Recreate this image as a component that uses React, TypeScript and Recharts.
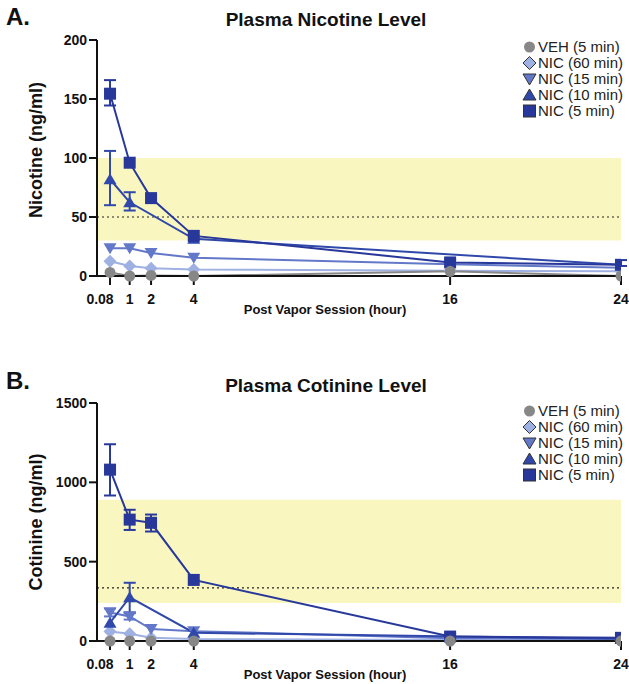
import React from "react";
import {
    ComposedChart, Line, XAxis, YAxis, ReferenceArea, ReferenceLine, ErrorBar, Legend, Label
} from "recharts";

const FONT = "Arial, 'Liberation Sans', Helvetica, sans-serif";

// hours after the vapor session
const HOURS = [0.08, 1, 2, 4, 16, 24];
const X_TICKS = [0.08, 1, 2, 4, 16, 24];

// legend order (top to bottom)
const SERIES_NAMES = ["VEH (5 min)", "NIC (60 min)", "NIC (15 min)", "NIC (10 min)", "NIC (5 min)"];

// Plasma nicotine (ng/ml)
const NICOTINE_VEH = [3, 0, 0.5, 0, 4, 0];
const NICOTINE_60 = [12.5, 8.5, 6.5, 5.5, 4.5, 4];
const NICOTINE_15 = [23.5, 23.5, 19.5, 15.5, 10, 7];
const NICOTINE_10 = [82, 62.5, null, 31.5, null, 9.5];
const NICOTINE_5 = [154.5, 96, 66, 34, 11.5, 9.5];
const NICOTINE_10_ERR = [[22, 24], [7, 8.5], null, null, null, null];
const NICOTINE_5_ERR = [[10, 11.5], null, null, null, null, [1, 4]];
const NICOTINE_TICKS = [0, 50, 100, 150, 200];
const NICOTINE_BAND = [30, 100];
const NICOTINE_REF = 50;

// Plasma cotinine (ng/ml)
const COTININE_VEH = [0, 0, 0, 0, 0, 0];
const COTININE_60 = [60, 45, 20, 12, 6, 4];
const COTININE_15 = [180, 155, 75, 62, 18, 12];
const COTININE_10 = [115, 275, null, 52, null, 14];
const COTININE_5 = [1080, 765, 745, 385, 28, 20];
const COTININE_15_ERR = [[25, 25], [20, 20], null, null, null, null];
const COTININE_10_ERR = [null, [95, 92], null, null, null, null];
const COTININE_5_ERR = [[163, 160], [65, 62], [55, 52], null, null, null];
const COTININE_TICKS = [0, 500, 1000, 1500];
const COTININE_BAND = [240, 890];
const COTININE_REF = 335;

const STYLE = {
    veh: { color: "#878787", shape: "circle" },
    nic60: { color: "#9fb0e2", shape: "diamond" },
    nic15: { color: "#6378c8", shape: "down" },
    nic10: { color: "#3048aa", shape: "up" },
    nic5: { color: "#28389a", shape: "square" },
};
const LEGEND_KEYS = ["veh", "nic60", "nic15", "nic10", "nic5"];

function Marker({ shape, cx, cy, fill, stroke, sw = 0 }: any) {
    if (cx == null || cy == null) return <g />;
    switch (shape) {
        case "circle":
            return <circle cx={cx} cy={cy} r={5.5} fill={fill} stroke={stroke} strokeWidth={sw} />;
        case "diamond":
            return <polygon points={`${cx},${cy - 6.5} ${cx + 6.5},${cy} ${cx},${cy + 6.5} ${cx - 6.5},${cy}`} fill={fill} stroke={stroke} strokeWidth={sw} />;
        case "down":
            return <polygon points={`${cx - 6.5},${cy - 5} ${cx + 6.5},${cy - 5} ${cx},${cy + 6}`} fill={fill} stroke={stroke} strokeWidth={sw} />;
        case "up":
            return <polygon points={`${cx - 6.5},${cy + 5} ${cx + 6.5},${cy + 5} ${cx},${cy - 6}`} fill={fill} stroke={stroke} strokeWidth={sw} />;
        default:
            return <rect x={cx - 6} y={cy - 6} width={12} height={12} fill={fill} stroke={stroke} strokeWidth={sw} />;
    }
}

const XTick = ({ x, y, payload }: any) => (
    <text x={x + (payload.value === 0.08 ? -10 : 0)} y={y} dy="0.71em" textAnchor="middle"
        fontSize={14} fontWeight="bold" fill="#111" fontFamily={FONT}>
        {payload.value}
    </text>
);

const LegendBox = () => (
    <div style={{ fontFamily: FONT, fontSize: 15, color: "#222" }}>
        {LEGEND_KEYS.map((k, i) => (
            <div key={k} style={{ display: "flex", alignItems: "center", height: 16, lineHeight: "16px", whiteSpace: "nowrap" }}>
                <svg width={17} height={16}>
                    <Marker shape={STYLE[k].shape} cx={8.5} cy={8} fill={STYLE[k].color}
                        stroke={k === "veh" ? "none" : "#333"} sw={k === "veh" ? 0 : 1} />
                </svg>
                <span>{SERIES_NAMES[i]}</span>
            </div>
        ))}
    </div>
);

function PanelChart({ rows, ticks, yMax, band, refY, yLabel, marginTop, marginBottom, legendTop, labelDy, errKeys }: any) {
    const order = ["nic60", "nic15", "nic10", "nic5", "veh"];
    return (
        <ComposedChart width={629} height={342} data={rows}
            margin={{ top: marginTop, right: 8, bottom: marginBottom, left: 0 }}>
            <ReferenceArea y1={band[0]} y2={band[1]} fill="#f9f6c0" fillOpacity={1} stroke="none" />
            <ReferenceLine y={refY} stroke="#222" strokeDasharray="2 3" strokeWidth={1.2} />
            <XAxis dataKey="hour" type="number" domain={[-0.53, 24]} ticks={X_TICKS} interval={0} allowDataOverflow
                height={30} axisLine={{ stroke: "#111", strokeWidth: 2 }}
                tickLine={{ stroke: "#111", strokeWidth: 2 }} tickSize={9} tickMargin={9} tick={<XTick />}>
                <Label value="Post Vapor Session (hour)" position="bottom" offset={-1} dx={-34}
                    style={{ fontSize: 13, fontWeight: "bold", fill: "#111", fontFamily: FONT }} />
            </XAxis>
            <YAxis type="number" domain={[0, yMax]} ticks={ticks} interval={0} width={97}
                axisLine={{ stroke: "#111", strokeWidth: 2 }} tickLine={{ stroke: "#111", strokeWidth: 2 }}
                tickSize={8} tickMargin={2}
                tick={{ fontSize: 14, fontWeight: "bold", fill: "#111", fontFamily: FONT }}
                label={{
                    content: ({ viewBox }: any) => (
                        <text transform={`translate(36, ${viewBox.y + viewBox.height / 2 + labelDy}) rotate(-90)`}
                            textAnchor="middle" dominantBaseline="central" fontSize={18} fontWeight="bold"
                            fill="#111" fontFamily={FONT}>{yLabel}</text>
                    ),
                }} />
            <Legend layout="vertical" align="center" verticalAlign="middle" content={<LegendBox />}
                wrapperStyle={{ left: 521, top: legendTop, width: 110 }} />
            {order.map((k) => (
                <Line key={k} dataKey={k} type="linear" stroke={STYLE[k].color} strokeWidth={2}
                    connectNulls isAnimationActive={false} activeDot={false} legendType="none"
                    dot={(p: any) => <Marker key={`${k}-${p.index}`} shape={STYLE[k].shape} cx={p.cx} cy={p.cy}
                        fill={STYLE[k].color} stroke={STYLE[k].color} sw={0} />}>
                    {errKeys[k] && (
                        <ErrorBar dataKey={errKeys[k]} direction="y" width={6} strokeWidth={2}
                            stroke={STYLE[k].color} isAnimationActive={false} />
                    )}
                </Line>
            ))}
        </ComposedChart>
    );
}

const nicotineRows = HOURS.map((hour, i) => ({
    hour,
    veh: NICOTINE_VEH[i], nic60: NICOTINE_60[i], nic15: NICOTINE_15[i],
    nic10: NICOTINE_10[i], nic5: NICOTINE_5[i],
    nic10Err: NICOTINE_10_ERR[i], nic5Err: NICOTINE_5_ERR[i],
}));

const cotinineRows = HOURS.map((hour, i) => ({
    hour,
    veh: COTININE_VEH[i], nic60: COTININE_60[i], nic15: COTININE_15[i],
    nic10: COTININE_10[i], nic5: COTININE_5[i],
    nic15Err: COTININE_15_ERR[i], nic10Err: COTININE_10_ERR[i], nic5Err: COTININE_5_ERR[i],
}));

export default function App() {
    const heading = { fontFamily: FONT, fontWeight: "bold" as const, fill: "#111" };
    return (
        <div style={{ position: "absolute", left: 0, top: 0, width: 629, height: 684, background: "#fff" }}>
            <div style={{ position: "absolute", left: 0, top: 0 }}>
                <PanelChart rows={nicotineRows} ticks={NICOTINE_TICKS} yMax={200} band={NICOTINE_BAND}
                    refY={NICOTINE_REF} yLabel="Nicotine (ng/ml)" marginTop={40} marginBottom={36}
                    legendTop={39} labelDy={-8} errKeys={{ nic10: "nic10Err", nic5: "nic5Err" }} />
            </div>
            <div style={{ position: "absolute", left: 0, top: 342 }}>
                <PanelChart rows={cotinineRows} ticks={COTININE_TICKS} yMax={1500} band={COTININE_BAND}
                    refY={COTININE_REF} yLabel="Cotinine (ng/ml)" marginTop={61} marginBottom={13}
                    legendTop={61} labelDy={0} errKeys={{ nic15: "nic15Err", nic10: "nic10Err", nic5: "nic5Err" }} />
            </div>
            <svg width={629} height={684} style={{ position: "absolute", left: 0, top: 0, pointerEvents: "none" }}>
                <text x={6} y={25} fontSize={24} {...heading}>A.</text>
                <text x={326} y={26} fontSize={19} textAnchor="middle" {...heading}>Plasma Nicotine Level</text>
                <text x={6} y={389} fontSize={24} {...heading}>B.</text>
                <text x={326} y={392} fontSize={19} textAnchor="middle" {...heading}>Plasma Cotinine Level</text>
            </svg>
        </div>
    );
}
